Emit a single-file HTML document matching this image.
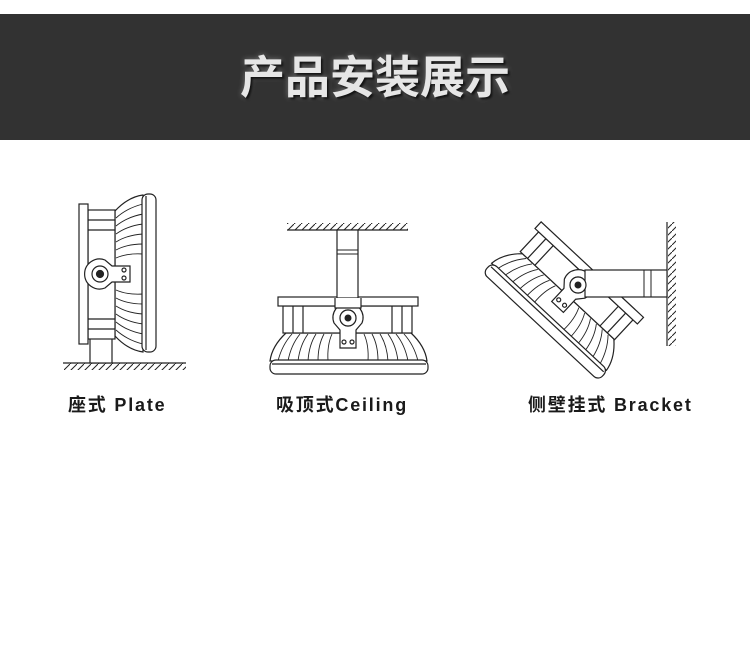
<!DOCTYPE html>
<html><head><meta charset="utf-8"><style>
html,body{margin:0;padding:0;background:#fff;width:750px;height:669px;overflow:hidden;position:relative}
.band{position:absolute;left:0;top:14px;width:750px;height:126px;background:#323232}
.title{position:absolute;left:0;top:50px;width:750px;text-align:center;font-family:"Liberation Sans","Noto Sans CJK SC",sans-serif;font-weight:bold;font-size:45px;line-height:56px;color:#e6e6e6;letter-spacing:0px;text-shadow:2px 2px 2px #111,0 0 6px rgba(255,255,255,.35)}
.lab{position:absolute;top:394px;font-family:"Liberation Sans","Noto Sans CJK SC",sans-serif;font-weight:bold;font-size:18px;line-height:22px;letter-spacing:1.8px;color:#1a1a1a;white-space:nowrap}
svg{position:absolute;left:0;top:0}
</style></head><body>
<div class="band"></div>
<div class="title">产品安装展示</div>
<svg width="750" height="669" viewBox="0 0 750 669">
<defs>
<g id="lamp" fill="#fff" stroke="#222" stroke-width="1.2">
  <path d="M-62,15 Q-76,28 -78,43 L79,43 Q77,28 63,15 Z"/>
  <g fill="none" stroke-width="0.9">
    <path d="M-56,16 Q-66,27 -70,43"/><path d="M-48,16 Q-57,27 -60,43"/>
    <path d="M-40,16 Q-48,27 -50,43"/><path d="M-32,16 Q-39,27 -40,43"/>
    <path d="M-24,16 Q-30,27 -30,43"/><path d="M-16,16 Q-21,27 -20,43"/>
    <path d="M56,16 Q66,27 70,43"/><path d="M48,16 Q57,27 60,43"/>
    <path d="M40,16 Q48,27 50,43"/><path d="M32,16 Q39,27 40,43"/>
    <path d="M24,16 Q30,27 30,43"/><path d="M16,16 Q21,27 20,43"/>
  </g>
  <rect x="-78" y="42" width="158" height="14" rx="6"/>
  <line x1="-76" y1="46" x2="78" y2="46"/>
  <rect x="-65" y="-12" width="129" height="27"/>
  <line x1="-55" y1="-12" x2="-55" y2="15"/><line x1="-45" y1="-12" x2="-45" y2="15"/>
  <line x1="44" y1="-12" x2="44" y2="15"/><line x1="54" y1="-12" x2="54" y2="15"/>
  <rect x="-70" y="-21" width="140" height="9"/>
  <path d="M-14,5 A15,15 0 1 1 14,5 L8,12 L8,30 L-8,30 L-8,12 Z"/>
  <circle cx="0" cy="0" r="8"/>
  <circle cx="0" cy="0" r="3.5" fill="#222"/>
  <circle cx="-4" cy="24" r="2" fill="none"/><circle cx="4" cy="24" r="2" fill="none"/>
</g>
<pattern id="h" width="7" height="7" patternUnits="userSpaceOnUse">
  <line x1="0" y1="7" x2="7" y2="0" stroke="#222" stroke-width="1"/>
</pattern>
</defs>

<!-- Plate -->
<rect x="64" y="363" width="122" height="7" fill="url(#h)"/>
<line x1="63" y1="363" x2="186" y2="363" stroke="#222" stroke-width="1.2"/>
<rect x="90" y="330" width="22" height="33" fill="#fff" stroke="#222" stroke-width="1.2"/>
<use href="#lamp" transform="translate(100,274) rotate(-90)"/>

<!-- Ceiling -->
<rect x="287" y="223" width="121" height="7" fill="url(#h)"/>
<line x1="287" y1="230" x2="408" y2="230" stroke="#222" stroke-width="1.2"/>
<use href="#lamp" transform="translate(348,318)"/>
<rect x="337" y="230" width="21" height="68" fill="#fff" stroke="#222" stroke-width="1.2"/>
<line x1="337" y1="250" x2="358" y2="250" stroke="#222"/><line x1="337" y1="254" x2="358" y2="254" stroke="#222"/>
<path d="M335,298 L335,308 L361,308 L361,298" fill="#fff" stroke="#222" stroke-width="1.2"/>
<circle cx="348" cy="318" r="8" fill="#fff" stroke="#222" stroke-width="1.2"/>
<circle cx="348" cy="318" r="3.5" fill="#222"/>

<!-- Bracket -->
<rect x="668" y="222" width="8" height="124" fill="url(#h)"/>
<line x1="667" y1="222" x2="667" y2="346" stroke="#222" stroke-width="1.2"/>
<use href="#lamp" transform="translate(578,285) rotate(43)"/>
<rect x="585" y="270" width="82" height="27" fill="#fff" stroke="#222" stroke-width="1.2"/>
<line x1="644" y1="270" x2="644" y2="297" stroke="#222"/><line x1="651" y1="270" x2="651" y2="297" stroke="#222"/>
<circle cx="578" cy="285" r="8" fill="#fff" stroke="#222" stroke-width="1.2"/>
<circle cx="578" cy="285" r="3.5" fill="#222"/>
</svg>
<div class="lab" style="left:68px">座式 Plate</div>
<div class="lab" style="left:276px">吸顶式Ceiling</div>
<div class="lab" style="left:528px">侧壁挂式 Bracket</div>
</body></html>
